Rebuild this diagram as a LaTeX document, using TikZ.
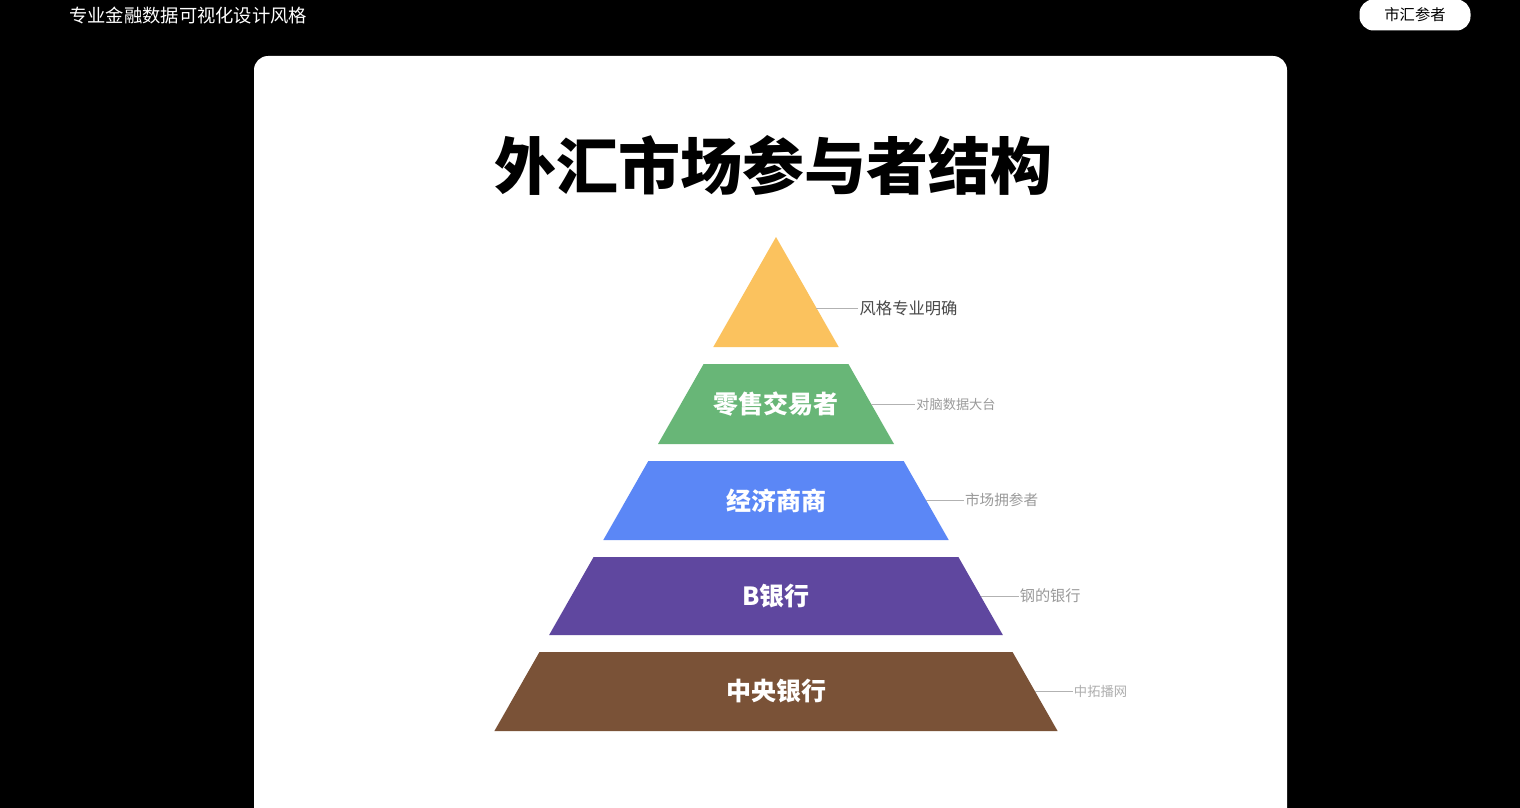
\documentclass[tikz,border=0pt]{standalone}
\usepackage{fontspec}
\newfontfamily\cjk{Noto Sans CJK SC}
\usepackage{xcolor}
\usetikzlibrary{calc}

\definecolor{tierYellow}{HTML}{FBC25E}
\definecolor{tierGreen}{HTML}{68B677}
\definecolor{tierBlue}{HTML}{5B87F6}
\definecolor{tierPurple}{HTML}{5F479F}
\definecolor{tierBrown}{HTML}{7A5237}
\definecolor{noteDark}{HTML}{4A4A4A}
\definecolor{noteGray}{HTML}{9A9A9A}

\begin{document}
\begin{tikzpicture}[x=1pt,y=-1pt,
    tierlabel/.style={text=white, font=\cjk\bfseries\fontsize{25}{25}\selectfont},
    sidenote/.style={anchor=west, inner sep=1pt},
    leader/.style={draw=gray!60, line width=0.8pt}]
    % Page and card
    \useasboundingbox (0,0) rectangle (1520,808);
    \clip (0,0) rectangle (1520,808);
    \fill[black] (0,0) rectangle (1520,808);
    \fill[white, rounded corners=14pt] (254,56) rectangle (1287,850);

    % Header
    \node[anchor=west, text=white, inner sep=0pt, font=\cjk\fontsize{18.3}{18.3}\selectfont] (brand) at (69,15) {专业金融数据可视化设计风格};
    \node[fill=white, rounded corners=14pt, minimum width=111pt, minimum height=31pt, inner sep=0pt, font=\cjk\fontsize{15.3}{15.3}\selectfont] (badge) at (1415,15) {市汇参者};

    % Title
    \node[font=\cjk\bfseries\fontsize{62}{62}\selectfont] (title) at (773,165) {外汇市场参与者结构};

    % Pyramid tiers (one outer slope through the apex)
    \foreach \n/\ya/\yb/\ym/\col/\txt in {1/237/347/308/tierYellow/{}, 2/364/444/404/tierGreen/零售交易者, 3/461/540/500/tierBlue/经济商商, 4/557/635/596/tierPurple/B银行, 5/652/731/691/tierBrown/中央银行} {
        \fill[\col] ({776-0.57*(\ya-237)},\ya) -- ({776+0.57*(\ya-237)},\ya) -- ({776+0.57*(\yb-237)},\yb) -- ({776-0.57*(\yb-237)},\yb) -- cycle;
        \node[tierlabel] (tier\n) at (776,{(\ya+\yb)/2}) {\txt};
        \coordinate (edge\n) at ({776+0.57*(\ym-237)},\ym);
    }

    % Side notes
    \node[sidenote, text=noteDark, font=\cjk\fontsize{16.3}{16.3}\selectfont] (note1) at ($(edge1)+(42,0)$) {风格专业明确};
    \node[sidenote, text=noteGray, font=\cjk\fontsize{13.2}{13.2}\selectfont] (note2) at ($(edge2)+(44,0)$) {对脑数据大台};
    \node[sidenote, text=noteGray, font=\cjk\fontsize{14.6}{14.6}\selectfont] (note3) at ($(edge3)+(38,0)$) {市场拥参者};
    \node[sidenote, text=noteGray, font=\cjk\fontsize{15.2}{15.2}\selectfont] (note4) at ($(edge4)+(38,0)$) {钢的银行};
    \node[sidenote, text=noteGray!80, font=\cjk\fontsize{13.3}{13.3}\selectfont] (note5) at ($(edge5)+(38,0)$) {中拓播网};
    \foreach \n in {1,...,5} {
        \draw[leader] (edge\n) -- (note\n.west);
    }
\end{tikzpicture}
\end{document}
